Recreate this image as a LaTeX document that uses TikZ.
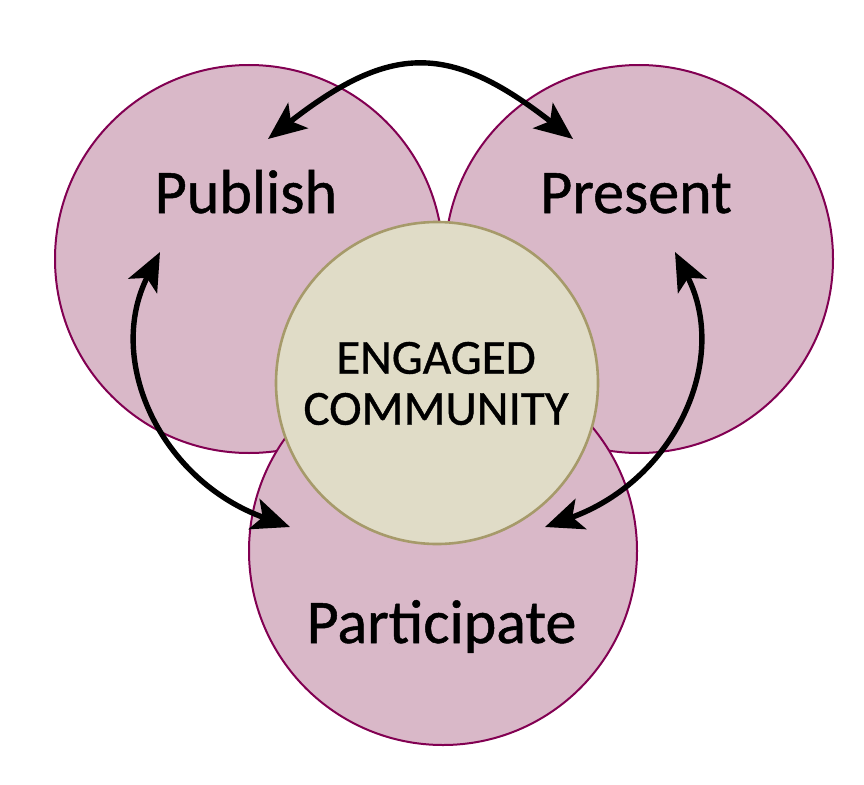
\documentclass[tikz,border=0pt]{standalone}
\usepackage{fontspec}
\setmainfont{Carlito}
\newfontfamily\lblfont[FakeBold=0.8]{Carlito}
\usetikzlibrary{arrows.meta}
\definecolor{pinkfill}{RGB}{217,184,200}
\definecolor{pinkline}{RGB}{130,0,82}
\definecolor{corefill}{RGB}{224,220,199}
\definecolor{coreline}{RGB}{166,154,106}
\tikzset{
  petal/.style={circle, inner sep=0pt, minimum size=388pt, fill=pinkfill, draw=pinkline, line width=2pt},
  core/.style={circle, inner sep=0pt, minimum size=322pt, fill=corefill, draw=coreline, line width=2.6pt},
  biglabel/.style={inner sep=0pt, anchor=base, font=\lblfont\fontsize{62}{62}\selectfont},
  corelabel/.style={inner sep=0pt, align=center, font=\lblfont\fontsize{49}{51}\selectfont},
  flow/.style={line width=5.4pt, {Stealth[length=38pt,width=32pt,inset=9pt]}-{Stealth[length=38pt,width=32pt,inset=9pt]}}
}
\begin{document}
\begin{tikzpicture}[x=1pt,y=-1pt]
\useasboundingbox (0,0) rectangle (864,784);
\node[petal] (pubc) at (249,259) {};
\node[petal] (prec) at (639,259) {};
\node[petal] (parc) at (443,551) {};
\node[core] (corec) at (437,383) {};
\node[biglabel] (pub) at (246,213) {Publish};
\node[biglabel] (pre) at (636,213) {Present};
\node[biglabel] (par) at (441.5,643) {Participate};
\node[corelabel] (eng) at (436,383.5) {ENGAGED\\COMMUNITY};
\coordinate (a1) at (268,139);
\coordinate (a2) at (573,139);
\coordinate (b1) at (160,252);
\coordinate (b2) at (290,527);
\coordinate (c1) at (675,252);
\coordinate (c2) at (545,527);
\draw[flow] (a1) .. controls (391,43) and (450,43) .. (a2);
\draw[flow] (b1) .. controls (105,360) and (160,480) .. (b2);
\draw[flow] (c1) .. controls (730,360) and (675,480) .. (c2);
\end{tikzpicture}
\end{document}
